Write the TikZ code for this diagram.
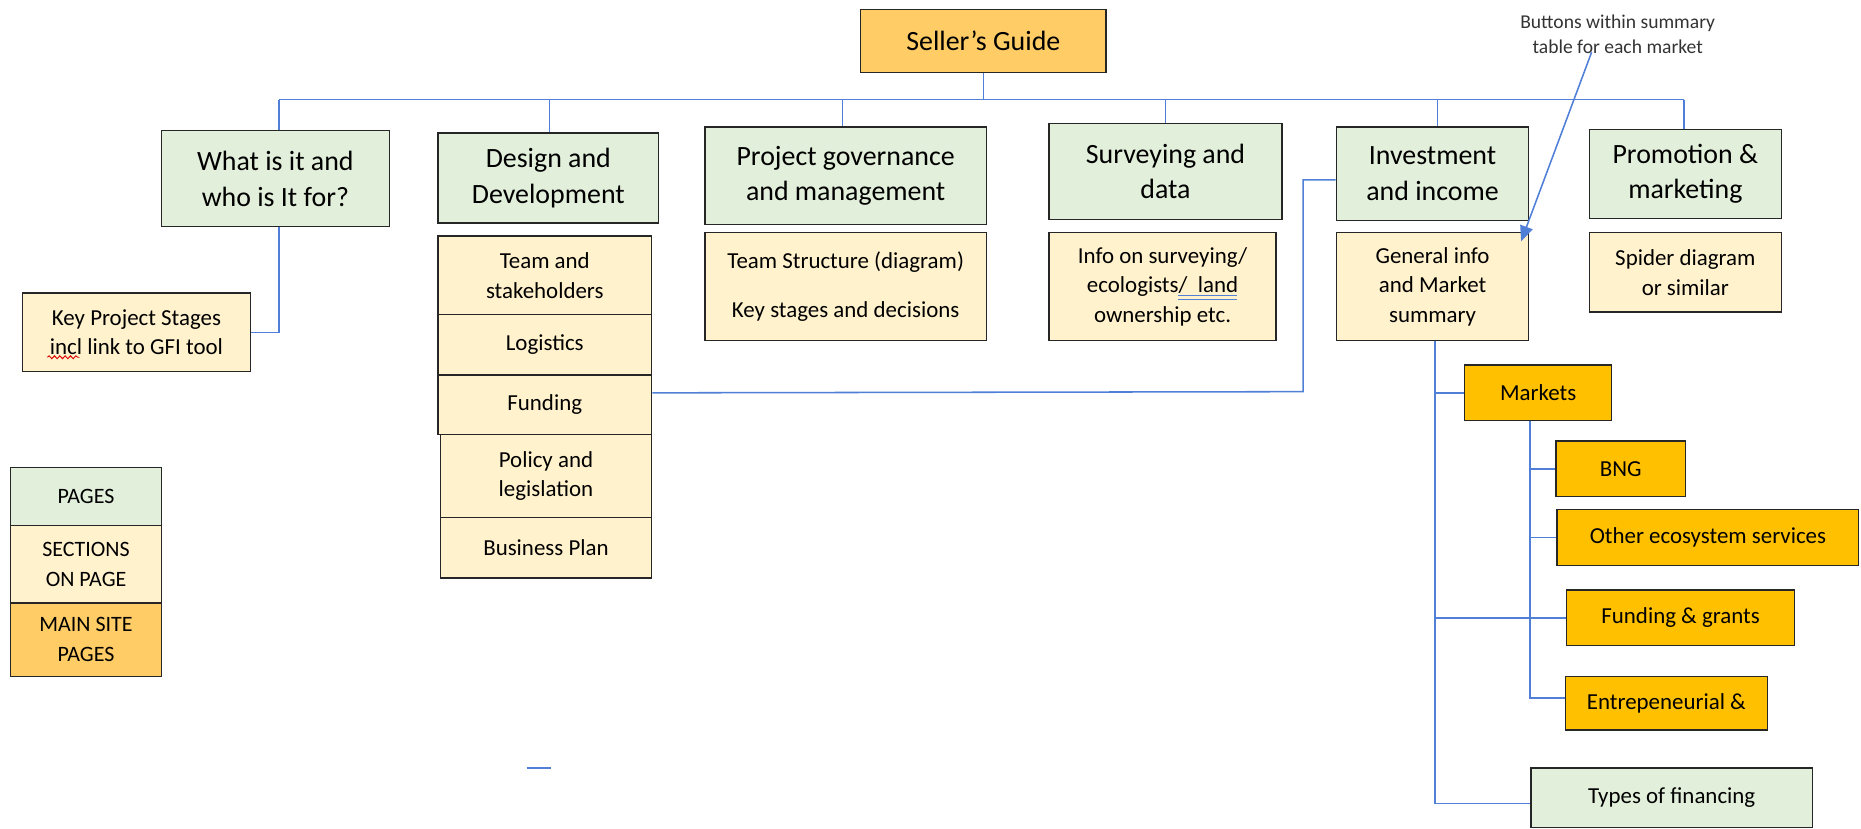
\documentclass[tikz,border=0pt]{standalone}
\usepackage{fontspec}
\setmainfont{Carlito}
\usetikzlibrary{arrows.meta,decorations.pathmorphing}
\definecolor{pagegreen}{HTML}{E2EFDA}
\definecolor{secyellow}{HTML}{FFF2CC}
\definecolor{siteorange}{HTML}{FFCC66}
\definecolor{marketgold}{HTML}{FFC000}
\definecolor{linkblue}{HTML}{4F7FD6}
\definecolor{edgegray}{HTML}{262626}
\tikzset{
  box/.style={draw=edgegray, line width=1.2pt, inner sep=0pt, align=center},
  sz/.style 2 args={minimum width=#1pt, minimum height=#2pt},
  pagebox/.style={box, fill=pagegreen, font=\fontsize{23.5}{30}\selectfont},
  secbox/.style={box, fill=secyellow, font=\fontsize{19.3}{25}\selectfont},
  rootbox/.style={box, fill=siteorange, font=\fontsize{23.5}{30}\selectfont},
  mktbox/.style={box, fill=marketgold, font=\fontsize{19.3}{25}\selectfont},
  legbox/.style={box, font=\fontsize{18.5}{25}\selectfont},
  link/.style={draw=linkblue, line width=1.3pt},
  notetext/.style={inner sep=0pt, align=center, text=black!80, font=\fontsize{16.5}{21}\selectfont},
}
\begin{document}
\begin{tikzpicture}[x=1pt, y=-1pt]
\useasboundingbox (0,0) rectangle (1568,698);

% root and page boxes
\node[rootbox, sz={207}{53}] (seller) at (828.5,34.5) {Seller’s Guide};
\node[pagebox, sz={192}{81}] (what) at (232,150.5) {What is it and\\who is It for?};
\node[pagebox, sz={186}{76}] (design) at (462,150) {Design and\\Development};
\node[pagebox, sz={237}{82}] (project) at (712.5,148) {Project governance\\and management};
\node[pagebox, sz={196}{81}] (survey) at (982,144.5) {Surveying and\\data};
\node[pagebox, sz={162}{79}] (invest) at (1207,146.5) {Investment\\and income};
\node[pagebox, sz={162}{75}] (promo) at (1420,146.5) {Promotion \&\\marketing};

% sections
\node[secbox, sz={192}{66}] (key) at (115,280) {Key Project Stages\\incl link to GFI tool};
\node[secbox, sz={180}{66}] (team) at (459,232) {Team and\\stakeholders};
\node[secbox, sz={180}{51}] (logi) at (459,290.5) {Logistics};
\node[secbox, sz={180}{50}] (fund) at (459,341) {Funding};
\node[secbox, sz={178}{70}] (policy) at (460,401) {Policy and\\legislation};
\node[secbox, sz={178}{51}] (bplan) at (460,461.5) {Business Plan};
\node[secbox, sz={237}{91}] (projectY) at (712.5,241.5) {Team Structure (diagram)\\[16pt]Key stages and decisions};
\node[secbox, sz={191}{91}] (surveyY) at (979.5,241.5) {Info on surveying/\\ecologists/\ \ land\\ownership etc.};
\node[secbox, sz={162}{91}] (investY) at (1207,241.5) {General info\\and Market\\summary};
\node[secbox, sz={162}{67}] (promoY) at (1420,229.5) {Spider diagram\\or similar};

% market pages
\node[mktbox, sz={124}{47}] (markets) at (1296,331) {Markets};
\node[mktbox, sz={109}{47}] (bng) at (1365.5,395) {BNG};
\node[mktbox, sz={254}{47}] (other) at (1439,453) {Other ecosystem services};
\node[mktbox, sz={192}{47}] (fundg) at (1416,520.5) {Funding \& grants};
\node[mktbox, sz={170}{45}] (entre) at (1404,592.5) {Entrepeneurial \&};
\node[secbox, fill=pagegreen, sz={237}{50}] (types) at (1408.5,672) {Types of financing};

% legend
\node[legbox, fill=pagegreen, sz={127}{49}] (lpages) at (72.5,418.5) {PAGES};
\node[legbox, fill=secyellow, sz={127}{65}] (lsections) at (72.5,475.5) {SECTIONS\\ON PAGE};
\node[legbox, fill=siteorange, sz={127}{62}] (lmain) at (72.5,539) {MAIN SITE\\PAGES};

% top-level tree
\coordinate (busL) at (235,84);
\coordinate (busR) at (1419,84);
\draw[link] (busL) -- (busR);
\draw[link] (seller.south) -- (seller.south |- busL);
\foreach \n/\dx in {what/3, design/1, project/-2.5, survey/0, invest/4, promo/-1}
  \draw[link] ([xshift=\dx pt]\n.north |- busL) -- ([xshift=\dx pt]\n.north);

% what -> key stages
\draw[link] ([xshift=3pt]what.south) |- (key.east);

% funding -> investment and income
\coordinate (fj) at (1098,330);
\draw[link] ([yshift=10pt]fund.east) -- (fj) |- ([yshift=-5pt]invest.west);

% investment sections -> market pages
\coordinate (mv) at (1209,287);
\draw[link] (mv) |- ([yshift=-5pt]types.west);
\draw[link] (mv |- markets.west) -- (markets.west);
\draw[link] (mv |- fundg.west) -- (fundg.west);
\coordinate (sv) at (1289,354.7);
\draw[link] (sv) |- ([yshift=4.5pt]entre.west);
\draw[link] (sv |- bng.west) -- (bng.west);
\draw[link] (sv |- other.west) -- (other.west);
\draw[link] (sv |- fundg.west) -- (fundg.west);

% note with arrow to the market summary
\node[notetext] (note) at (1363,29) {Buttons within summary\\table for each market};
\coordinate (abeg) at (1341,44);
\draw[link, -{Triangle[length=13pt,width=11pt]}] (abeg) -- ([shift={(-7,8)}]investY.north east);

% spelling and link marks
\draw[red!85!black, line width=0.8pt, decorate, decoration={snake, amplitude=1.2pt, segment length=4.5pt}] (40,301) -- (67,301);
\draw[linkblue, line width=0.8pt] (992.6,249) -- (1042.6,249);
\draw[linkblue, line width=0.8pt] (992.6,252.5) -- (1042.6,252.5);

% stray stroke
\draw[link] (443.7,647) -- (464,647);
\end{tikzpicture}
\end{document}
